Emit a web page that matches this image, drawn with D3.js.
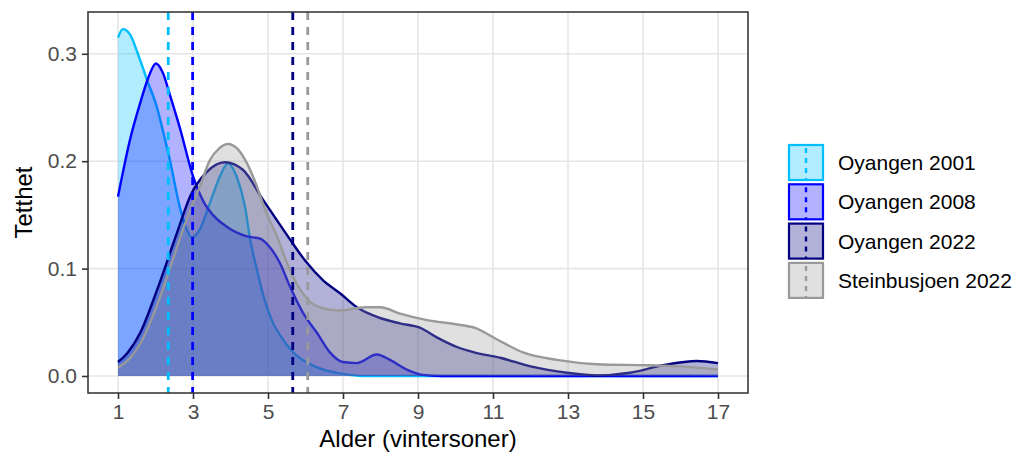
<!DOCTYPE html>
<html>
<head>
<meta charset="utf-8">
<script src="https://cdn.jsdelivr.net/npm/d3@7"></script>
<style>
  body { margin: 0; background: #fff; }
  svg { display: block; }
  text { font-family: "Liberation Sans", Arial, sans-serif; }
</style>
</head>
<body>
<svg id="chart" width="1014" height="454"></svg>
<script>
// Age-distribution densities (age in winter seasons, density)
const groups = ["Oyangen 2001", "Oyangen 2008", "Oyangen 2022", "Steinbusjoen 2022"];

const oyangen2001 = [
  [1.0, 0.315], [1.13, 0.323], [1.32, 0.318], [1.53, 0.300], [1.77, 0.276],
  [2.04, 0.250], [2.2, 0.228], [2.39, 0.200], [2.65, 0.157], [2.84, 0.136],
  [2.97, 0.129], [3.19, 0.137], [3.45, 0.161], [3.72, 0.186], [3.93, 0.198],
  [4.17, 0.185], [4.39, 0.157], [4.52, 0.128], [4.71, 0.098], [4.9, 0.072],
  [5.1, 0.052], [5.32, 0.038], [5.67, 0.022], [6.31, 0.008], [7.0, 0.002],
  [7.5, 0.0], [17.0, 0.0]
];

const oyangen2008 = [
  [1.0, 0.167], [1.32, 0.220], [1.59, 0.254], [1.8, 0.277], [2.01, 0.291],
  [2.2, 0.282], [2.39, 0.261], [2.65, 0.231], [3.0, 0.186], [3.27, 0.163],
  [3.53, 0.150], [3.9, 0.139], [4.44, 0.130], [4.79, 0.128], [5.0, 0.122],
  [5.32, 0.105], [5.59, 0.083], [5.93, 0.059], [6.31, 0.040], [6.65, 0.022],
  [7.0, 0.013], [7.37, 0.012], [7.9, 0.020], [8.25, 0.015], [8.7, 0.006],
  [9.13, 0.001], [9.6, 0.0], [17.0, 0.0]
];

const oyangen2022 = [
  [1.0, 0.013], [1.24, 0.021], [1.59, 0.040], [2.04, 0.080], [2.57, 0.133],
  [2.92, 0.167], [3.37, 0.190], [3.85, 0.199], [4.33, 0.192], [4.87, 0.164],
  [5.59, 0.127], [6.0, 0.107], [6.47, 0.089], [6.92, 0.077], [7.37, 0.064],
  [7.99, 0.054], [8.52, 0.049], [9.05, 0.045], [9.5, 0.036], [10.04, 0.027],
  [10.5, 0.022], [11.19, 0.017], [12.0, 0.009], [12.97, 0.003], [13.77, 0.0005],
  [14.65, 0.003], [15.53, 0.010], [16.44, 0.014], [17.0, 0.012]
];

const steinbusjoen2022 = [
  [1.0, 0.008], [1.3, 0.016], [1.59, 0.030], [2.04, 0.066], [2.4, 0.102],
  [2.73, 0.136], [2.95, 0.157], [3.19, 0.177], [3.45, 0.201], [3.7, 0.212],
  [3.93, 0.216], [4.2, 0.211], [4.44, 0.198], [4.71, 0.176], [4.92, 0.155],
  [5.24, 0.130], [5.51, 0.105], [5.75, 0.087], [5.95, 0.076], [6.3, 0.065],
  [6.9, 0.061], [7.6, 0.064], [8.0, 0.064], [8.52, 0.058], [9.24, 0.052],
  [10.04, 0.048], [10.5, 0.045], [11.11, 0.034], [11.8, 0.022], [12.71, 0.015],
  [13.77, 0.011], [15.11, 0.010], [16.0, 0.009], [17.0, 0.006]
];

// Mean age per group (dashed reference lines)
const meanAge = [2.34, 2.99, 5.66, 6.06];

const xTicks = [1, 3, 5, 7, 9, 11, 13, 15, 17];
const yTicks = [0, 0.1, 0.2, 0.3];
const yTickLabels = ["0.0", "0.1", "0.2", "0.3"];

const xTitle = "Alder (vintersoner)";
const yTitle = "Tetthet";

const series = [oyangen2001, oyangen2008, oyangen2022, steinbusjoen2022];
const colors = ["#00BFFF", "#0000FF", "#000080", "#999999"];

// ---- layout ----
const panel = { left: 88, right: 748, top: 12, bottom: 393 };
const svg = d3.select("#chart");

const x = d3.scaleLinear().domain([0.2, 17.8]).range([panel.left, panel.right]);
const y = d3.scaleLinear().domain([-0.01583, 0.3389]).range([panel.bottom, panel.top]);

svg.append("rect").attr("width", 1014).attr("height", 454).attr("fill", "#fff");

svg.append("defs").append("clipPath").attr("id", "panel-clip")
  .append("rect")
  .attr("x", panel.left).attr("y", panel.top)
  .attr("width", panel.right - panel.left).attr("height", panel.bottom - panel.top);

// grid
const grid = svg.append("g");
grid.selectAll("line.gx").data(xTicks).join("line")
  .attr("x1", d => x(d)).attr("x2", d => x(d))
  .attr("y1", panel.top).attr("y2", panel.bottom)
  .attr("stroke", "#e6e6e6").attr("stroke-width", 1.6);
grid.selectAll("line.gy").data(yTicks).join("line")
  .attr("x1", panel.left).attr("x2", panel.right)
  .attr("y1", d => y(d)).attr("y2", d => y(d))
  .attr("stroke", "#e6e6e6").attr("stroke-width", 1.6);

// densities: each group draws its fill and outline in turn
const plot = svg.append("g").attr("clip-path", "url(#panel-clip)");
const area = d3.area().x(d => x(d[0])).y0(y(0)).y1(d => y(d[1])).curve(d3.curveMonotoneX);
const line = d3.line().x(d => x(d[0])).y(d => y(d[1])).curve(d3.curveMonotoneX);

series.forEach((s, i) => {
  plot.append("path").attr("d", area(s))
    .attr("fill", colors[i]).attr("fill-opacity", 0.3).attr("stroke", "none");
  plot.append("path").attr("d", line(s))
    .attr("fill", "none").attr("stroke", colors[i]).attr("stroke-width", 2.4)
    .attr("stroke-linejoin", "round");
});

// mean lines
plot.selectAll("line.mean").data(meanAge).join("line")
  .attr("x1", d => x(d)).attr("x2", d => x(d))
  .attr("y1", panel.top).attr("y2", panel.bottom)
  .attr("stroke", (d, i) => colors[i]).attr("stroke-width", 2.8)
  .attr("stroke-dasharray", "8,7");

// panel border
svg.append("rect")
  .attr("x", panel.left).attr("y", panel.top)
  .attr("width", panel.right - panel.left).attr("height", panel.bottom - panel.top)
  .attr("fill", "none").attr("stroke", "#3a3a3a").attr("stroke-width", 1.6);

// axes
const xAxis = d3.axisBottom(x).tickValues(xTicks).tickSize(6).tickPadding(5).tickFormat(d3.format("d"));
const gx = svg.append("g").attr("transform", `translate(0,${panel.bottom})`).call(xAxis);
gx.select(".domain").remove();
gx.selectAll(".tick line").attr("stroke", "#333").attr("stroke-width", 1.6);
gx.selectAll(".tick text").attr("fill", "#4d4d4d").attr("font-size", 21)
  .attr("font-family", "Liberation Sans, Arial, sans-serif");

const yAxis = d3.axisLeft(y).tickValues(yTicks).tickSize(6).tickPadding(5)
  .tickFormat((d, i) => yTickLabels[i]);
const gy = svg.append("g").attr("transform", `translate(${panel.left},0)`).call(yAxis);
gy.select(".domain").remove();
gy.selectAll(".tick line").attr("stroke", "#333").attr("stroke-width", 1.6);
gy.selectAll(".tick text").attr("fill", "#4d4d4d").attr("font-size", 21)
  .attr("font-family", "Liberation Sans, Arial, sans-serif");

// axis titles
svg.append("text")
  .attr("x", (panel.left + panel.right) / 2).attr("y", 447)
  .attr("text-anchor", "middle").attr("font-size", 24).attr("fill", "#000")
  .text(xTitle);
svg.append("text")
  .attr("transform", `translate(32,${(panel.top + panel.bottom) / 2}) rotate(-90)`)
  .attr("text-anchor", "middle").attr("font-size", 24).attr("fill", "#000")
  .text(yTitle);

// legend
const legend = svg.append("g");
const keyX = 788, keyY = 144, keyW = 36, keyH = 37, keyStep = 39.3;
groups.forEach((g, i) => {
  const ky = keyY + i * keyStep;
  legend.append("rect").attr("x", keyX).attr("y", ky).attr("width", keyW).attr("height", keyH)
    .attr("fill", "#fff");
  legend.append("rect").attr("x", keyX + 1).attr("y", ky + 1).attr("width", keyW - 2).attr("height", keyH - 2)
    .attr("fill", colors[i]).attr("fill-opacity", 0.3)
    .attr("stroke", colors[i]).attr("stroke-width", 2.2);
  legend.append("line")
    .attr("x1", keyX + keyW / 2).attr("x2", keyX + keyW / 2)
    .attr("y1", ky + 1).attr("y2", ky + keyH - 1)
    .attr("stroke", colors[i]).attr("stroke-width", 2.4).attr("stroke-dasharray", "5,5")
    .attr("stroke-dashoffset", -3);
  legend.append("text")
    .attr("x", 838).attr("y", ky + keyH / 2 + 7.5)
    .attr("font-size", 21).attr("fill", "#000")
    .text(g);
});
</script>
</body>
</html>
